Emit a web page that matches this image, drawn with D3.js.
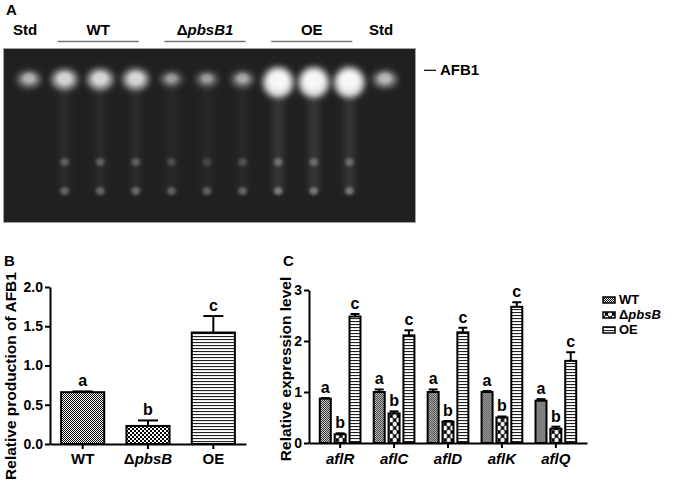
<!DOCTYPE html>
<html>
<head>
<meta charset="utf-8">
<script src="https://cdn.jsdelivr.net/npm/d3@7"></script>
<style>
  body { margin: 0; background: #fff; }
  svg { display: block; }
  text { font-family: "Liberation Sans", Arial, sans-serif; font-weight: bold; fill: #000; }
</style>
</head>
<body>
<div id="chart"></div>
<script>
// ---- panel A: TLC plate ----
var lanes = ['Std', 'WT1', 'WT2', 'WT3', 'KO1', 'KO2', 'KO3', 'OE1', 'OE2', 'OE3', 'Std2'];
var laneHeaders = ['Std', '', '', '', '', '', '', '', '', '', 'Std'];
var afb1Signal = [0.55, 0.72, 0.74, 0.74, 0.45, 0.45, 0.5, 1, 1, 1, 0.58];
var midSignal = [0, 0.26, 0.26, 0.26, 0.18, 0.16, 0.2, 0.3, 0.28, 0.28, 0];
var lowSignal = [0, 0.3, 0.3, 0.32, 0.28, 0.28, 0.3, 0.38, 0.36, 0.36, 0];
var streakSignal = [0, 0.05, 0.05, 0.05, 0.04, 0.04, 0.04, 0.11, 0.11, 0.11, 0];
var bandRf = [0.82, 0.345, 0.178];
var groupNames = ['WT', 'ΔpbsB1', 'OE'];
var groupFirstLane = ['WT1', 'KO1', 'OE1'];
var groupLastLane = ['WT3', 'KO3', 'OE3'];

// ---- panel B ----
var strainsB = ['WT', 'ΔpbsB', 'OE'];
var productionB = [0.66, 0.23, 1.42];
var productionErrB = [0.01, 0.07, 0.21];
var lettersB = ['a', 'b', 'c'];
var ticksB = [0, 0.5, 1, 1.5, 2];

// ---- panel C ----
var genes = ['aflR', 'aflC', 'aflD', 'aflK', 'aflQ'];
var strainsC = ['WT', 'ΔpbsB', 'OE'];
var exprWT = [0.87, 1.0, 1.0, 1.0, 0.83];
var exprWTErr = [0.01, 0.05, 0.05, 0.02, 0.03];
var exprKO = [0.17, 0.58, 0.42, 0.5, 0.28];
var exprKOErr = [0.02, 0.04, 0.01, 0.02, 0.04];
var exprOE = [2.48, 2.11, 2.17, 2.67, 1.61];
var exprOEErr = [0.05, 0.1, 0.09, 0.09, 0.17];
var lettersC = ['a', 'b', 'c'];
var ticksC = [0, 1, 2, 3];

var W = 686, H = 486;
var svg = d3.select('#chart').append('svg').attr('width', W).attr('height', H);
var defs = svg.append('defs');

// blur filters for the plate spots
[['blurBig', 3.4], ['blurSmall', 1.8], ['blurStreak', 3.5]].forEach(function (f) {
    defs.append('filter').attr('id', f[0]).attr('x', '-100%').attr('y', '-100%')
        .attr('width', '300%').attr('height', '300%')
        .append('feGaussianBlur').attr('stdDeviation', f[1]);
});

// fill patterns
function checker(id, cell) {
    var p = defs.append('pattern').attr('id', id).attr('patternUnits', 'userSpaceOnUse')
        .attr('width', cell * 2).attr('height', cell * 2);
    p.append('rect').attr('width', cell * 2).attr('height', cell * 2).attr('fill', '#fff');
    p.append('rect').attr('width', cell).attr('height', cell).attr('fill', '#000');
    p.append('rect').attr('x', cell).attr('y', cell).attr('width', cell).attr('height', cell).attr('fill', '#000');
}
checker('patFine', 1);
checker('patCheck', 2);
var ps = defs.append('pattern').attr('id', 'patStripe').attr('patternUnits', 'userSpaceOnUse')
    .attr('width', 4).attr('height', 3);
ps.append('rect').attr('width', 4).attr('height', 3).attr('fill', '#fff');
ps.append('rect').attr('width', 4).attr('height', 1.1).attr('fill', '#222');
var po = defs.append('pattern').attr('id', 'patOval').attr('patternUnits', 'userSpaceOnUse')
    .attr('width', 7).attr('height', 8);
po.append('rect').attr('width', 7).attr('height', 8).attr('fill', '#000');
[[3.5, 4], [0, 0], [7, 0], [0, 8], [7, 8]].forEach(function (c) {
    po.append('ellipse').attr('cx', c[0]).attr('cy', c[1]).attr('rx', 2).attr('ry', 2.6).attr('fill', '#fff');
});

function strainText(sel, name) {
    sel.text(null);
    if (name.charAt(0) === 'Δ') {
        sel.append('tspan').attr('font-style', 'normal').text('Δ');
        sel.append('tspan').attr('font-style', 'italic').text(name.slice(1));
    } else {
        sel.append('tspan').text(name);
    }
}

// ================= panel A =================
var gA = svg.append('g');
var laneX = d3.scalePoint().domain(lanes).range([29, 385]);
var rfY = d3.scaleLinear().domain([0, 1]).range([222, 48]);

gA.append('text').attr('x', 6).attr('y', 15).attr('font-size', 15).text('A');
gA.append('rect').attr('x', 3.5).attr('y', 48.5).attr('width', 412).attr('height', 174)
    .attr('fill', '#202020').attr('stroke', '#a0a0a0').attr('stroke-width', 1);

gA.selectAll('text.std').data(lanes).enter().append('text').attr('class', 'std')
    .attr('x', function (d) { return laneX(d) - 4; }).attr('y', 35)
    .attr('text-anchor', 'middle').attr('font-size', 15)
    .text(function (d, i) { return laneHeaders[i]; });

groupNames.forEach(function (g, i) {
    var x0 = laneX(groupFirstLane[i]) - 7, x1 = laneX(groupLastLane[i]) + 3;
    gA.append('line').attr('x1', x0).attr('x2', x1).attr('y1', 41.5).attr('y2', 41.5)
        .attr('stroke', '#777').attr('stroke-width', 1.5);
    strainText(gA.append('text').attr('x', (x0 + x1) / 2).attr('y', 35)
        .attr('text-anchor', 'middle').attr('font-size', 15), g);
});

var plate = gA.append('g');
// faint smears under each sample
plate.selectAll('rect.streak').data(lanes).enter().append('rect').attr('class', 'streak')
    .attr('x', function (d) { return laneX(d) - 5; })
    .attr('y', rfY(bandRf[0]))
    .attr('width', 10)
    .attr('height', rfY(bandRf[2]) - rfY(bandRf[0]))
    .attr('fill', '#fff')
    .attr('fill-opacity', function (d, i) { return streakSignal[i]; })
    .attr('filter', 'url(#blurStreak)');

// main AFB1 spot
plate.selectAll('ellipse.afb1').data(lanes).enter().append('ellipse').attr('class', 'afb1')
    .attr('cx', function (d) { return laneX(d); })
    .attr('cy', function (d, i) { return rfY(bandRf[0]) + (afb1Signal[i] > 0.9 ? 3 : 0); })
    .attr('rx', function (d, i) { return 7 + 8 * afb1Signal[i]; })
    .attr('ry', function (d, i) { return 5 + 10 * afb1Signal[i] * afb1Signal[i]; })
    .attr('fill', '#fff')
    .attr('fill-opacity', function (d, i) { return afb1Signal[i] * 0.9; })
    .attr('filter', 'url(#blurBig)');
// bright core
plate.selectAll('ellipse.core').data(lanes).enter().append('ellipse').attr('class', 'core')
    .attr('cx', function (d) { return laneX(d); })
    .attr('cy', function (d, i) { return rfY(bandRf[0]) + (afb1Signal[i] > 0.9 ? 1 : -1); })
    .attr('rx', function (d, i) { return 3 + 6 * afb1Signal[i]; })
    .attr('ry', function (d, i) { return 2 + 6 * afb1Signal[i]; })
    .attr('fill', '#fff')
    .attr('fill-opacity', function (d, i) { return afb1Signal[i] * 0.6; })
    .attr('filter', 'url(#blurSmall)');

[[midSignal, bandRf[1]], [lowSignal, bandRf[2]]].forEach(function (b) {
    plate.append('g').selectAll('ellipse').data(lanes).enter().append('ellipse')
        .attr('cx', function (d) { return laneX(d); })
        .attr('cy', rfY(b[1]))
        .attr('rx', 4.5).attr('ry', 4)
        .attr('fill', '#fff')
        .attr('fill-opacity', function (d, i) { return b[0][i]; })
        .attr('filter', 'url(#blurSmall)');
});

gA.append('line').attr('x1', 424).attr('x2', 436).attr('y1', rfY(bandRf[0]) - 9).attr('y2', rfY(bandRf[0]) - 9)
    .attr('stroke', '#000').attr('stroke-width', 1.2);
gA.append('text').attr('x', 440).attr('y', rfY(bandRf[0]) - 4).attr('font-size', 15).text('AFB1');

// ================= axis styling helper =================
function styleAxis(g, size) {
    g.select('.domain').attr('stroke', '#000').attr('stroke-width', 2);
    g.selectAll('.tick line').attr('stroke', '#000').attr('stroke-width', 2);
    g.selectAll('.tick text').attr('font-size', size).attr('font-weight', 'bold')
        .attr('font-family', '"Liberation Sans", Arial, sans-serif').attr('fill', '#000');
}

// ================= panel B =================
var gB = svg.append('g');
var xB = d3.scaleBand().domain(strainsB).range([50, 246]).paddingInner(0.34).paddingOuter(0.17);
var yB = d3.scaleLinear().domain([0, 2]).range([444, 287]);

gB.append('text').attr('x', 4).attr('y', 266).attr('font-size', 15).text('B');

var fillB = ['url(#patFine)', 'url(#patCheck)', 'url(#patStripe)'];
gB.selectAll('rect.bar').data(strainsB).enter().append('rect').attr('class', 'bar')
    .attr('x', function (d) { return xB(d); })
    .attr('y', function (d, i) { return yB(productionB[i]); })
    .attr('width', xB.bandwidth())
    .attr('height', function (d, i) { return yB(0) - yB(productionB[i]); })
    .attr('fill', function (d, i) { return fillB[i]; })
    .attr('stroke', '#000').attr('stroke-width', 2);

strainsB.forEach(function (d, i) {
    var cx = xB(d) + xB.bandwidth() / 2;
    var top = yB(productionB[i] + productionErrB[i]);
    gB.append('line').attr('x1', cx).attr('x2', cx).attr('y1', yB(productionB[i])).attr('y2', top)
        .attr('stroke', '#000').attr('stroke-width', 2);
    gB.append('line').attr('x1', cx - 10).attr('x2', cx + 10).attr('y1', top).attr('y2', top)
        .attr('stroke', '#000').attr('stroke-width', 2);
    gB.append('text').attr('x', cx).attr('y', top - 5).attr('text-anchor', 'middle')
        .attr('font-size', 16).text(lettersB[i]);
});

var yAxisB = gB.append('g').attr('transform', 'translate(50,0)')
    .call(d3.axisLeft(yB).tickValues(ticksB).tickFormat(d3.format('.1f')).tickSize(5).tickPadding(2).tickSizeOuter(0));
styleAxis(yAxisB, 14);
var xAxisB = gB.append('g').attr('transform', 'translate(0,444)')
    .call(d3.axisBottom(xB).tickSize(5).tickPadding(4).tickSizeOuter(0));
styleAxis(xAxisB, 15);
xAxisB.selectAll('.tick text').each(function (d) { strainText(d3.select(this), d); });

gB.append('text').attr('transform', 'translate(16,376) rotate(-90)')
    .attr('text-anchor', 'middle').attr('font-size', 15.5).text('Relative production of AFB1');

// ================= panel C =================
var gC = svg.append('g');
var x0C = d3.scaleBand().domain(genes).range([309, 587]).paddingInner(0.245).paddingOuter(0.2);
var x1C = d3.scaleBand().domain(strainsC).range([0, x0C.bandwidth()]).paddingInner(0.26);
var yC = d3.scaleLinear().domain([0, 3]).range([443, 290]);

gC.append('text').attr('x', 283).attr('y', 266).attr('font-size', 15).text('C');

var seriesC = [exprWT, exprKO, exprOE];
var errC = [exprWTErr, exprKOErr, exprOEErr];
var fillC = ['url(#patFine)', 'url(#patOval)', 'url(#patStripe)'];

var groups = gC.selectAll('g.gene').data(genes).enter().append('g').attr('class', 'gene')
    .attr('transform', function (d) { return 'translate(' + x0C(d) + ',0)'; });

groups.each(function (gene, gi) {
    var g = d3.select(this);
    strainsC.forEach(function (s, si) {
        var v = seriesC[si][gi], e = errC[si][gi];
        var bx = x1C(s), cx = bx + x1C.bandwidth() / 2;
        var top = yC(v + e);
        g.append('line').attr('x1', cx).attr('x2', cx).attr('y1', yC(v)).attr('y2', top)
            .attr('stroke', '#000').attr('stroke-width', 2);
        g.append('line').attr('x1', cx - 4.5).attr('x2', cx + 4.5).attr('y1', top).attr('y2', top)
            .attr('stroke', '#000').attr('stroke-width', 2);
        g.append('rect').attr('x', bx).attr('y', yC(v))
            .attr('width', x1C.bandwidth()).attr('height', yC(0) - yC(v))
            .attr('fill', fillC[si]).attr('stroke', '#000').attr('stroke-width', 2);
        g.append('text').attr('x', cx).attr('y', top - 5).attr('text-anchor', 'middle')
            .attr('font-size', 16).text(lettersC[si]);
    });
});

var yAxisC = gC.append('g').attr('transform', 'translate(309,0)')
    .call(d3.axisLeft(yC).tickValues(ticksC).tickFormat(d3.format('d')).tickSize(5).tickPadding(2).tickSizeOuter(0));
styleAxis(yAxisC, 14);
var xAxisC = gC.append('g').attr('transform', 'translate(0,443)')
    .call(d3.axisBottom(x0C).tickSize(5).tickPadding(5).tickSizeOuter(0));
styleAxis(xAxisC, 15);
xAxisC.selectAll('.tick text').attr('font-style', 'italic');

gC.append('text').attr('transform', 'translate(291,369) rotate(-90)')
    .attr('text-anchor', 'middle').attr('font-size', 15.5).text('Relative expression level');

// legend
var legend = gC.append('g').attr('transform', 'translate(603,291)');
strainsC.forEach(function (s, i) {
    var row = legend.append('g').attr('transform', 'translate(0,' + (i * 15) + ')');
    row.append('rect').attr('x', 0).attr('y', 6).attr('width', 12).attr('height', 6)
        .attr('fill', fillC[i]).attr('stroke', '#000').attr('stroke-width', 1.5);
    strainText(row.append('text').attr('x', 16).attr('y', 13).attr('font-size', 13), s);
});
</script>
</body>
</html>
